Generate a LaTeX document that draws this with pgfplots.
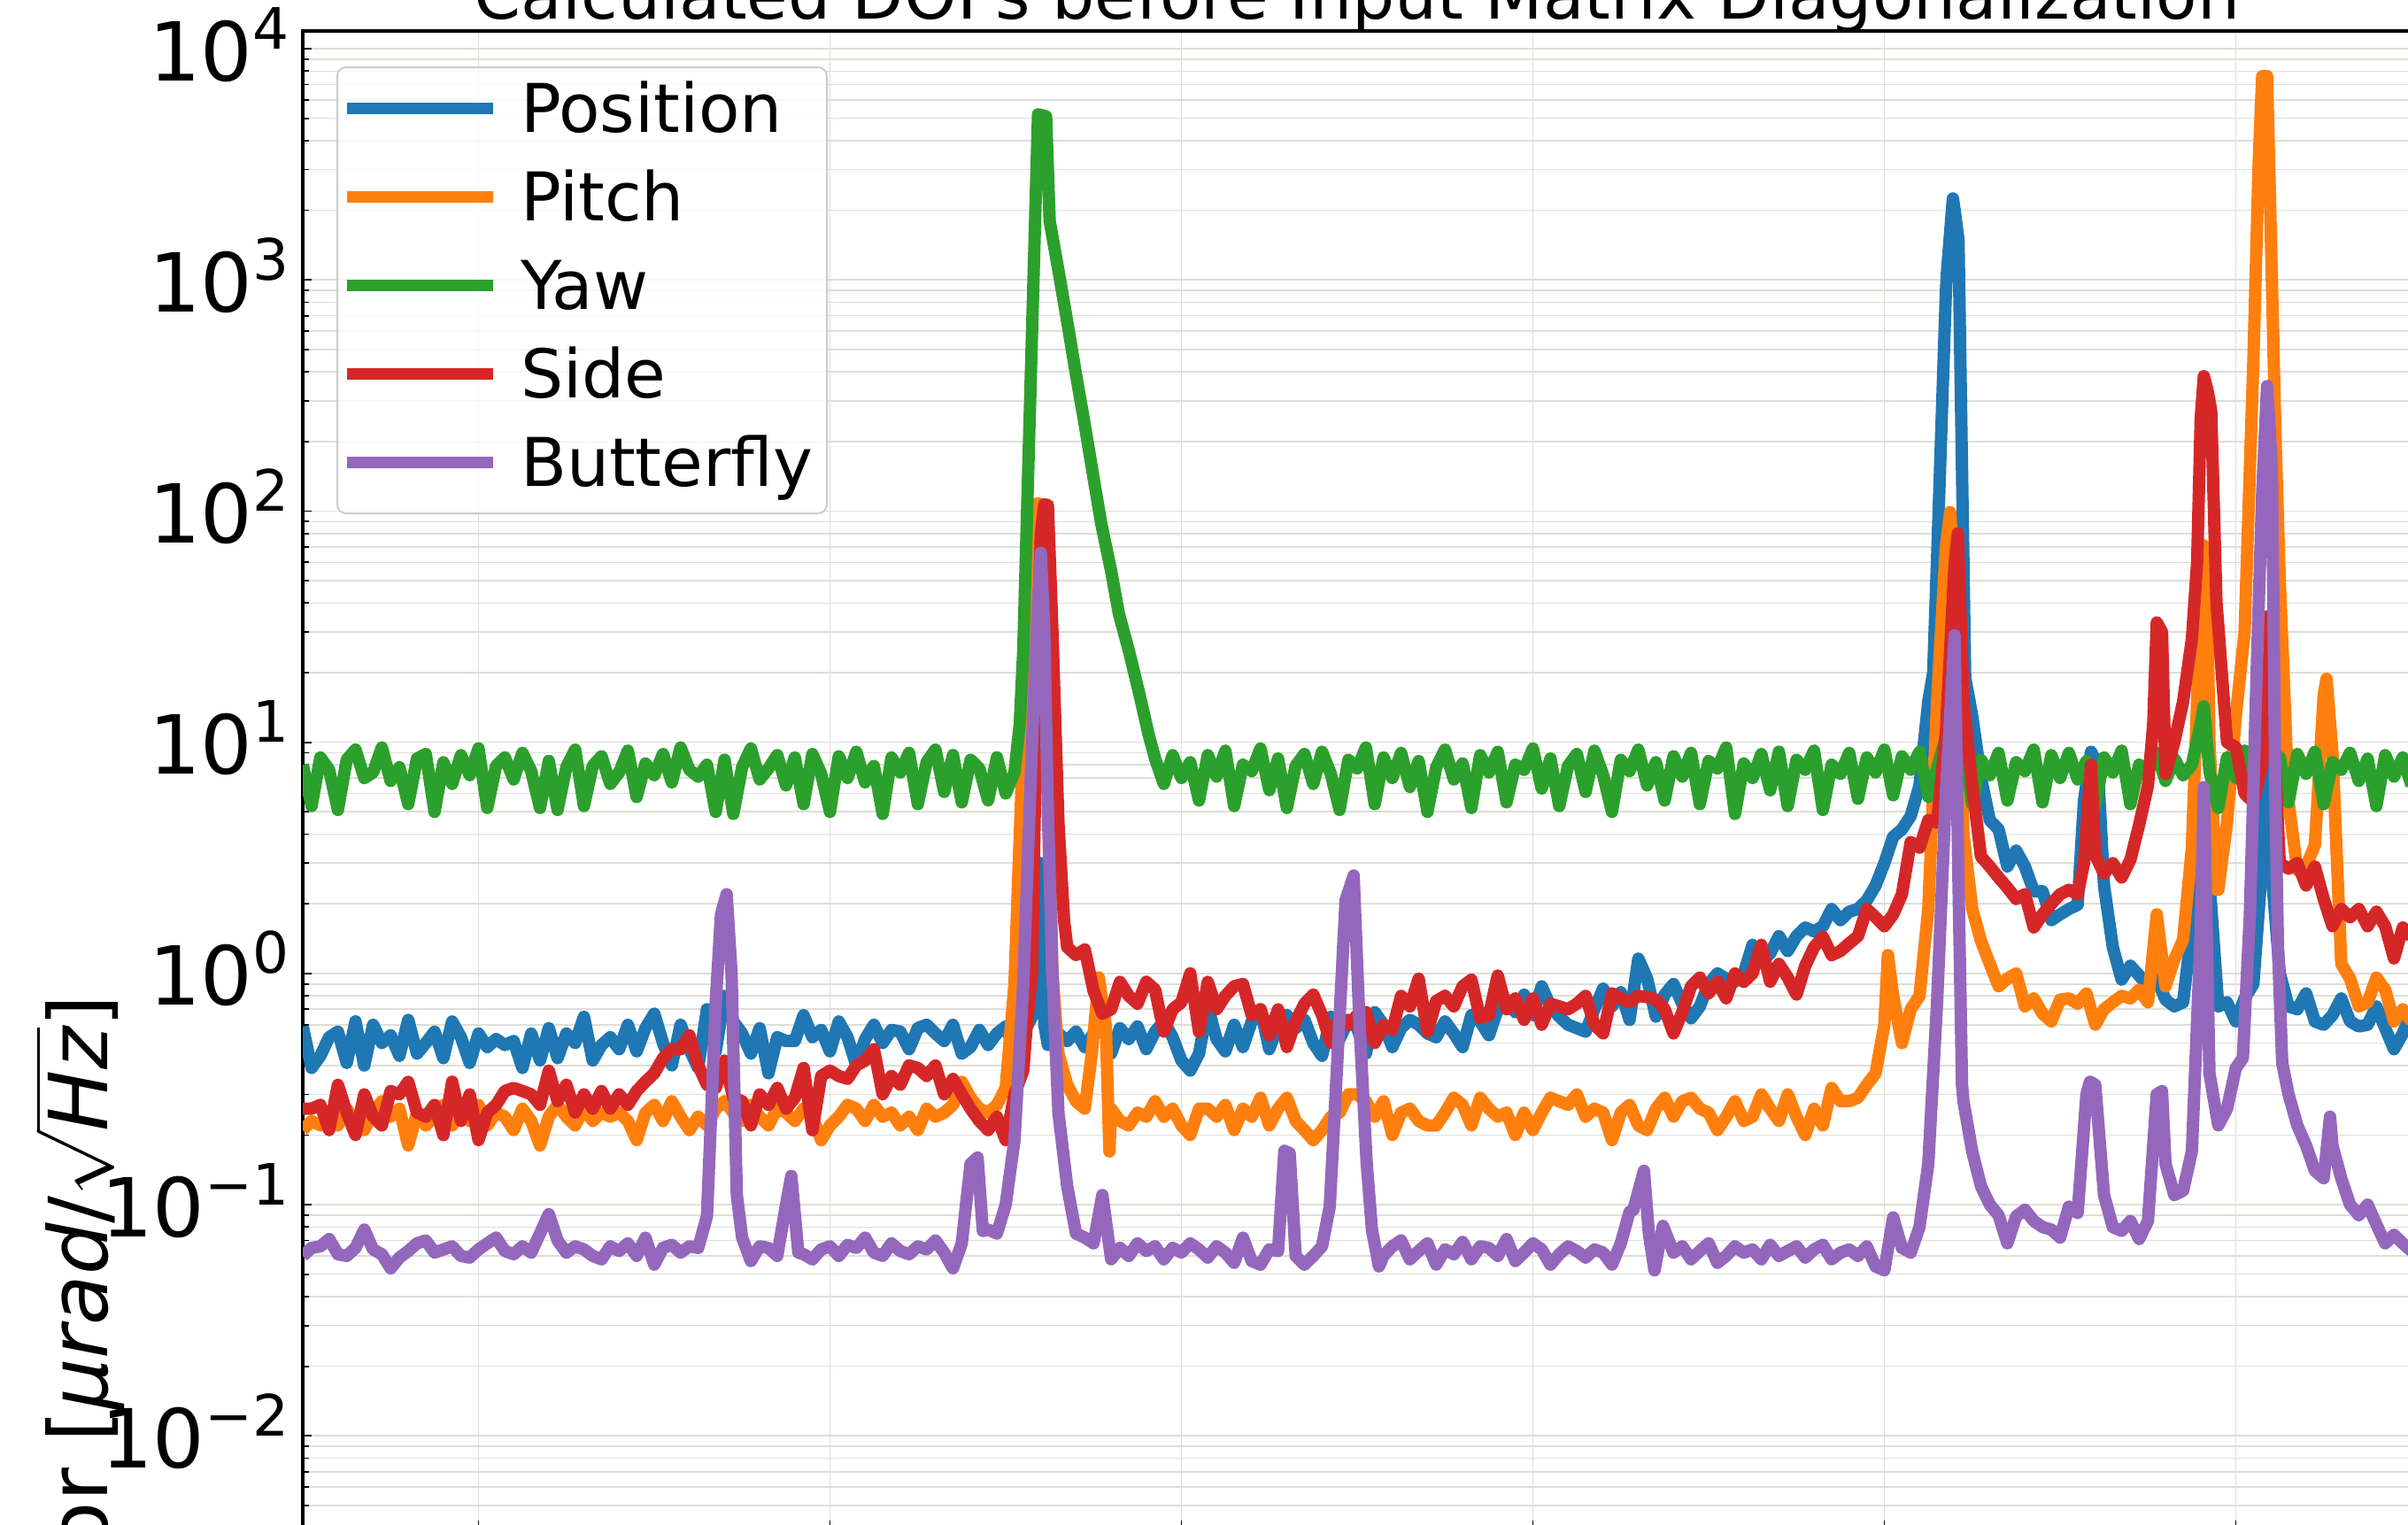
\documentclass[border=0pt]{standalone}
\usepackage{fontspec}
\setmainfont{DejaVu Sans}
\usepackage{graphicx}
\usepackage{pgfplots}
\usepackage{pgfplotstable}
\pgfplotsset{compat=1.18}

\definecolor{tabblue}{HTML}{1F77B4}
\definecolor{taborange}{HTML}{FF7F0E}
\definecolor{tabgreen}{HTML}{2CA02C}
\definecolor{tabred}{HTML}{D62728}
\definecolor{tabpurple}{HTML}{9467BD}
\definecolor{gridc}{RGB}{222,222,216}
\definecolor{legedge}{RGB}{204,204,204}

\newcommand\tickfont{\fontsize{26.2pt}{31pt}\selectfont}
\newcommand\legfont{\fontsize{21.6pt}{26pt}\selectfont}
\newcommand\tp[1]{10\raisebox{0.39em}{\scalebox{0.7}{#1}}}

\pgfplotstableread{
x pos pitch yaw side bfly
5.00 0.59 0.21 8.0 0.26 0.060
5.25 0.39 0.23 5.3 0.26 0.065
5.50 0.44 0.22 8.6 0.27 0.066
5.75 0.53 0.24 7.6 0.21 0.071
6.00 0.56 0.22 5.1 0.33 0.061
6.25 0.41 0.26 8.4 0.25 0.060
6.50 0.62 0.23 9.3 0.20 0.065
6.75 0.40 0.21 7.0 0.30 0.078
7.00 0.60 0.25 7.4 0.24 0.064
7.25 0.50 0.28 9.5 0.22 0.061
7.50 0.54 0.24 6.8 0.31 0.053
7.75 0.44 0.26 7.8 0.30 0.059
8.00 0.63 0.18 5.4 0.34 0.063
8.25 0.45 0.25 8.5 0.25 0.068
8.50 0.50 0.22 8.9 0.24 0.070
8.75 0.56 0.24 5.0 0.27 0.062
9.00 0.43 0.27 8.2 0.20 0.064
9.25 0.62 0.22 6.6 0.34 0.066
9.50 0.53 0.25 8.8 0.23 0.060
9.75 0.41 0.23 7.2 0.30 0.059
10.00 0.55 0.27 9.4 0.19 0.064
10.25 0.48 0.22 5.2 0.25 0.068
10.50 0.52 0.25 7.9 0.27 0.072
10.75 0.49 0.24 8.6 0.31 0.063
11.00 0.51 0.21 6.9 0.32 0.061
11.25 0.39 0.26 9.0 0.31 0.066
11.50 0.55 0.23 7.5 0.30 0.062
11.75 0.42 0.18 5.2 0.27 0.075
12.00 0.58 0.24 8.3 0.38 0.091
12.25 0.43 0.27 5.1 0.28 0.070
12.50 0.55 0.24 7.8 0.33 0.062
12.75 0.50 0.22 9.3 0.25 0.066
13.00 0.65 0.26 5.3 0.30 0.064
13.25 0.42 0.23 7.9 0.26 0.060
13.50 0.49 0.25 8.7 0.31 0.058
13.75 0.53 0.24 6.6 0.26 0.066
14.00 0.47 0.25 7.4 0.30 0.063
14.25 0.60 0.23 9.2 0.27 0.068
14.50 0.46 0.19 5.8 0.31 0.060
14.75 0.58 0.25 8.1 0.34 0.072
15.00 0.67 0.27 7.2 0.37 0.055
15.25 0.50 0.23 8.9 0.43 0.065
15.50 0.40 0.28 6.7 0.47 0.067
15.75 0.60 0.24 9.5 0.47 0.062
16.00 0.47 0.21 7.6 0.54 0.066
16.25 0.39 0.24 7.1 0.40 0.065
16.50 0.70 0.22 8.0 0.33 0.089
16.75 0.46 0.26 5.0 0.32 0.75
16.90 nan nan nan nan 1.8
17.00 0.80 0.28 8.4 0.42 nan
17.06 nan nan nan nan 2.2
17.20 nan nan nan nan 1.0
17.25 0.62 0.25 4.9 0.29 nan
17.35 nan nan nan nan 0.11
17.50 0.55 0.23 7.8 0.28 0.072
17.75 0.45 0.27 9.4 0.22 0.057
18.00 0.58 0.24 6.9 0.30 0.066
18.25 0.37 0.22 7.7 0.27 0.065
18.50 0.53 0.26 8.8 0.32 0.060
18.75 0.51 0.25 6.5 0.26 0.100
18.90 nan nan nan nan 0.133
19.00 0.51 0.23 8.6 0.29 nan
19.10 nan nan nan nan 0.062
19.25 0.66 0.26 5.4 0.39 0.061
19.50 0.53 0.24 8.9 0.21 0.058
19.75 0.57 0.19 7.3 0.36 0.064
20.00 0.46 0.22 5.0 0.38 0.066
20.25 0.62 0.24 8.7 0.36 0.060
20.50 0.53 0.27 7.0 0.35 0.067
20.75 0.40 0.26 9.1 0.40 0.065
21.00 0.52 0.23 6.7 0.42 0.072
21.25 0.60 0.27 7.9 0.47 0.062
21.50 0.50 0.24 4.9 0.30 0.060
21.75 0.57 0.25 8.6 0.36 0.068
22.00 0.56 0.22 7.4 0.33 0.063
22.25 0.47 0.24 9.0 0.40 0.061
22.50 0.58 0.21 5.4 0.39 0.066
22.75 0.60 0.26 8.2 0.36 0.064
23.00 0.55 0.24 9.3 0.40 0.070
23.25 0.51 0.25 6.1 0.30 0.062
23.50 0.60 0.27 8.8 0.35 0.053
23.75 0.45 0.34 5.5 0.30 0.068
24.00 0.48 0.29 8.4 0.26 0.15
24.20 nan nan nan nan 0.16
24.25 0.57 0.26 7.7 0.23 nan
24.35 nan nan nan nan 0.077
24.50 0.49 0.25 5.6 0.21 0.078
24.75 0.55 0.27 8.6 0.24 0.075
25.00 0.59 0.32 6.0 0.19 0.10
25.25 0.47 0.9 7.4 0.30 0.19
25.40 nan 4 12 nan nan
25.50 0.55 10 25 0.38 0.9
25.60 nan 30 nan 0.6 nan
25.75 0.65 70 600 1.0 10
25.85 nan 107 nan 8 nan
25.92 1.0 108 5200 30 40
26.00 3.0 106 nan 80 66
26.10 0.6 60 nan 107 30
26.15 nan nan 5100 nan nan
26.20 0.49 8 nan 106 5
26.25 0.50 nan 1800 nan nan
26.33 nan 1.0 nan 30 1.0
26.50 0.55 0.45 1100 4.5 0.25
26.66 nan nan nan 1.7 nan
26.75 0.51 0.33 660 1.3 0.12
27.00 0.56 0.28 390 1.2 0.075
27.25 0.48 0.26 236 1.27 0.072
27.45 nan 0.45 nan nan nan
27.50 0.55 nan 139 0.84 0.068
27.65 nan 0.96 nan nan nan
27.72 nan nan 88 nan nan
27.75 0.60 nan nan 0.67 0.11
27.85 nan 0.59 nan nan nan
27.95 nan 0.17 nan nan nan
28.00 0.45 0.26 55 0.70 0.058
28.22 nan nan 36 nan nan
28.25 0.58 0.23 nan 0.92 0.065
28.50 0.52 0.22 25 0.80 0.060
28.56 nan nan 23 nan nan
28.75 0.59 0.25 nan 0.74 0.068
28.81 nan nan 16 nan nan
29.00 0.47 0.24 nan 0.92 0.063
29.06 nan nan 10.9 nan nan
29.25 0.56 0.28 8.5 0.85 0.066
29.50 0.62 0.24 6.6 0.56 0.058
29.75 0.53 0.26 8.8 0.70 0.065
30.00 0.42 0.22 7.0 0.75 0.062
30.25 0.38 0.20 8.2 1.0 0.068
30.50 0.45 0.26 5.6 0.56 0.064
30.75 0.72 0.26 8.8 0.92 0.059
31.00 0.52 0.24 7.1 0.70 0.066
31.25 0.46 0.27 9.2 0.80 0.062
31.50 0.60 0.21 5.3 0.88 0.056
31.75 0.48 0.26 8.0 0.90 0.072
32.00 0.62 0.24 7.5 0.66 0.057
32.25 0.70 0.29 9.4 0.70 0.055
32.50 0.47 0.22 6.2 0.54 0.064
32.75 0.60 0.26 8.5 0.70 0.063
32.93 nan nan nan nan 0.171
33.00 0.66 0.29 5.2 0.48 nan
33.08 nan nan nan nan 0.167
33.25 0.58 0.23 7.9 0.62 0.060
33.50 0.63 0.21 8.9 0.74 0.055
33.75 0.50 0.19 6.6 0.81 0.060
34.00 0.44 0.21 9.1 0.66 0.066
34.22 nan nan nan nan 0.098
34.25 0.65 0.24 7.3 0.50 nan
34.42 nan nan nan nan 0.375
34.50 0.52 0.25 5.1 0.65 nan
34.67 nan nan nan nan 2.07
34.75 0.63 0.30 8.4 0.60 nan
34.90 nan nan nan nan 2.65
35.00 0.58 0.30 7.7 0.66 nan
35.07 nan nan nan nan 0.59
35.25 0.45 0.28 9.5 0.68 nan
35.27 nan nan nan nan 0.152
35.42 nan nan nan nan 0.078
35.50 0.68 0.24 5.4 0.50 nan
35.62 nan nan nan nan 0.054
35.75 0.60 0.28 8.6 0.60 0.060
36.00 0.48 0.20 7.0 0.57 0.066
36.25 0.58 0.25 9.0 0.80 0.070
36.50 0.63 0.26 6.4 0.72 0.058
36.75 0.60 0.23 8.3 0.95 0.063
37.00 0.55 0.22 5.0 0.56 0.068
37.25 0.53 0.22 7.8 0.76 0.055
37.50 0.62 0.25 9.3 0.80 0.064
37.75 0.55 0.29 6.9 0.72 0.061
38.00 0.48 0.27 8.1 0.88 0.069
38.25 0.66 0.22 5.2 0.94 0.058
38.50 0.62 0.29 8.8 0.64 0.066
38.75 0.54 0.26 7.4 0.66 0.065
39.00 0.70 0.24 9.1 0.98 0.060
39.25 0.77 0.25 5.5 0.70 0.071
39.50 0.68 0.20 8.0 0.78 0.057
39.75 0.81 0.25 7.6 0.63 0.062
40.00 0.66 0.21 9.4 0.78 0.068
40.25 0.88 0.25 6.3 0.60 0.064
40.50 0.72 0.29 8.5 0.74 0.055
40.75 0.65 0.28 5.3 0.72 0.061
41.00 0.60 0.27 7.9 0.70 0.066
41.25 0.58 0.30 8.9 0.74 0.063
41.50 0.56 0.24 6.1 0.80 0.059
41.75 0.70 0.26 9.2 0.60 0.064
42.00 0.86 0.25 7.2 0.55 0.062
42.25 0.72 0.19 5.0 0.82 0.055
42.50 0.83 0.25 8.4 0.78 0.068
42.75 0.63 0.27 7.5 0.75 0.093
42.86 nan nan nan nan 0.095
43.00 1.16 0.22 9.3 0.80 nan
43.16 nan nan nan nan 0.14
43.25 0.95 0.21 6.5 0.79 nan
43.30 nan nan nan nan 0.075
43.46 nan nan nan nan 0.052
43.50 0.65 0.26 8.2 0.77 nan
43.70 nan nan nan nan 0.081
43.75 0.81 0.29 5.6 0.70 nan
44.00 0.90 0.24 8.7 0.55 0.062
44.25 0.74 0.28 7.1 0.68 0.066
44.50 0.64 0.29 9.0 0.88 0.058
44.75 0.72 0.26 5.4 0.96 0.063
45.00 0.90 0.25 8.3 0.82 0.068
45.25 1.0 0.21 7.7 0.92 0.056
45.50 0.95 0.24 9.5 0.78 0.060
45.75 0.92 0.28 4.9 1.0 0.066
46.00 1.0 0.23 8.1 0.92 0.062
46.25 1.33 0.24 7.0 1.0 0.064
46.50 1.12 0.30 8.9 1.33 0.058
46.75 1.22 0.26 6.2 0.92 0.067
47.00 1.45 0.23 9.1 1.1 0.060
47.25 1.25 0.30 5.3 0.96 0.063
47.50 1.45 0.24 8.4 0.81 0.066
47.75 1.58 0.20 7.6 1.08 0.059
48.00 1.52 0.26 9.2 1.3 0.064
48.25 1.6 0.22 5.1 1.44 0.067
48.50 1.9 0.32 8.0 1.2 0.058
48.75 1.7 0.28 7.3 1.25 0.062
49.00 1.85 0.28 9.0 1.35 0.064
49.25 1.9 0.29 5.7 1.45 0.060
49.50 2.07 0.33 8.6 1.9 0.066
49.75 2.4 0.37 7.4 1.75 0.054
50.00 3.0 0.6 9.3 1.6 0.052
50.10 nan 1.2 nan nan nan
50.25 3.9 0.8 5.9 1.8 0.088
50.50 4.2 0.5 8.7 2.2 0.065
50.75 4.8 0.7 7.6 3.7 0.062
51.00 6.5 0.8 9.1 3.5 0.080
51.25 15 1.9 5.8 4.6 0.15
51.39 20 nan nan nan nan
51.50 62 15 7.7 4.5 0.75
51.75 880 70 10.5 11 6
51.78 1070 nan nan nan nan
51.87 nan 99 nan nan nan
51.95 2250 nan nan nan nan
52.00 2000 50 12 60 29
52.09 nan nan nan 80 nan
52.10 nan nan nan nan 3
52.11 1480 nan nan nan nan
52.21 nan nan nan nan 0.33
52.25 60 4 9.8 15 0.28
52.30 19 nan nan nan nan
52.50 13 1.9 5.4 6.5 0.17
52.75 7 1.38 8.4 3.2 0.12
53.00 4.6 1.1 7.2 2.9 0.10
53.25 4.2 0.88 9.0 2.6 0.09
53.50 2.9 0.95 5.6 2.35 0.068
53.75 3.4 1.0 8.2 2.1 0.089
54.00 2.9 0.72 7.5 2.2 0.095
54.25 2.27 0.78 9.3 1.58 0.085
54.50 2.27 0.67 5.5 1.8 0.080
54.75 1.7 0.62 8.8 2.0 0.078
55.00 1.8 0.77 7.0 2.2 0.072
55.25 1.9 0.78 9.0 2.3 0.098
55.50 1.98 0.74 6.9 2.2 0.092
55.68 5.6 nan nan 3.0 nan
55.75 nan 0.82 8.3 nan 0.30
55.85 nan nan nan nan 0.34
55.88 9.1 nan nan 8.0 nan
56.00 nan 0.6 5.3 3.25 0.33
56.07 8.0 nan nan nan nan
56.25 2.4 0.70 8.6 2.7 0.11
56.50 1.3 0.75 7.4 3.0 0.08
56.75 0.94 0.80 9.2 2.6 0.077
57.00 1.08 0.78 5.4 3.1 0.085
57.25 0.98 0.85 8.0 4.4 0.071
57.50 0.88 0.75 7.6 6.5 0.085
57.65 nan nan nan 12 nan
57.75 0.95 1.8 9.0 33 0.30
57.90 nan nan nan 30 0.31
58.00 0.77 0.88 6.8 7.3 0.15
58.25 0.72 1.15 8.5 10 0.11
58.50 0.75 1.4 7.2 15 0.115
58.75 1.6 3.5 8.0 28 0.17
58.90 nan nan nan 60 nan
59.00 3.5 40 12 250 1.5
59.09 4 71 14.3 383 6.4
59.20 nan 30 nan 330 nan
59.25 2.5 10 7.5 300 0.37
59.30 nan nan nan 270 nan
59.45 nan 2.3 nan 40 nan
59.50 0.72 2.3 5.2 32 0.22
59.60 nan nan nan 20 nan
59.75 0.75 4.5 8.6 10 0.26
60.00 0.62 13 7.0 9.5 0.39
60.20 nan nan nan nan 0.43
60.25 0.78 30 9.2 6 nan
60.40 nan nan nan nan 1.8
60.50 0.9 450 6.0 5.5 nan
60.60 nan nan nan nan 22
60.65 nan 3200 nan nan nan
60.75 3 7600 8.4 8 120
60.89 30 7600 12 35 347
61.00 3 1480 9.0 20 180
61.03 nan nan nan nan 140
61.13 nan 205 nan nan 5
61.20 nan nan nan nan 1.3
61.25 1.0 50 8.6 3.0 nan
61.32 nan nan nan nan 0.41
61.37 nan 18 nan nan nan
61.50 0.72 5.5 5.5 2.84 0.30
61.75 0.70 2.8 8.9 3.0 0.22
62.00 0.82 2.9 7.3 2.4 0.18
62.25 0.62 3.6 9.1 2.9 0.14
62.50 0.60 16 5.4 2.1 0.13
62.58 nan 18.8 nan nan nan
62.68 nan nan nan nan 0.24
62.75 0.66 9 8.2 1.6 0.18
63.00 0.78 1.1 7.6 1.9 0.13
63.25 0.62 0.95 9.0 1.75 0.10
63.50 0.59 0.72 6.8 1.9 0.09
63.75 0.60 0.75 8.5 1.6 0.10
64.00 0.72 0.96 5.3 1.85 0.082
64.25 0.58 0.85 8.8 1.6 0.068
64.50 0.47 0.62 7.1 1.16 0.074
64.75 0.55 0.7 8.6 1.58 0.068
65.00 0.68 0.62 6.5 1.44 0.063
}\data

\begin{document}
\begin{tikzpicture}
\path[use as bounding box] (0,0) rectangle (27.2cm,17.22cm);
\clip (0,0) rectangle (27.2cm,17.22cm);
\begin{axis}[
  at={(3.42cm,-0.06cm)}, anchor=south west,
  scale only axis, width=23.82cm, height=16.93cm,
  xmin=5, xmax=65,
  ymode=log, ymin=0.003936, ymax=11928,
  xtick={10,20,30,40,50,60}, xticklabels={},
  ytick={0.01,0.1,1,10,100,1000,10000},
  yticklabels={\tp{−2},\tp{−1},\tp{0},\tp{1},\tp{2},\tp{3},\tp{4}},
  minor ytick={0.004,0.005,0.006,0.007,0.008,0.009,
    0.02,0.03,0.04,0.05,0.06,0.07,0.08,0.09,
    0.2,0.3,0.4,0.5,0.6,0.7,0.8,0.9,
    2,3,4,5,6,7,8,9,20,30,40,50,60,70,80,90,
    200,300,400,500,600,700,800,900,
    2000,3000,4000,5000,6000,7000,8000,9000},
  tick pos=left,
  tick align=inside,
  major tick length=0.1cm, minor tick length=0.065cm,
  tick style={black, line width=0.018cm},
  axis line style={black, line width=0.033cm},
  grid=both,
  major grid style={draw=gridc, line width=0.016cm},
  minor grid style={draw=gridc, line width=0.016cm},
  yticklabel style={font=\tickfont, anchor=base east, inner sep=0pt, xshift=-0.15cm, yshift=-0.36cm},
  title={Calculated DOFs before Input Matrix Diagonalization},
  every axis title/.style={at={(0.5,1)}, anchor=base, yshift=0.133cm, inner sep=0pt, font=\legfont},
  ylabel={Error [\textit{μrad}/$\sqrt{\mbox{\itshape Hz}}$]},
  every axis y label/.style={at={(axis description cs:-0.0924,0.3568)}, rotate=90, anchor=base east, inner sep=0pt, font=\tickfont},
  legend style={at={(axis description cs:0,1)}, anchor=north west,
    xshift=0.38cm, yshift=-0.40cm,
    draw=legedge, line width=0.02cm, rounded corners=0.1cm,
    fill=white, fill opacity=0.8, draw opacity=1, text opacity=1,
    font=\legfont, inner xsep=0.04cm, inner ysep=0.125cm,
    row sep=0.21cm, column sep=0.25cm, cells={anchor=west},
    nodes={inner sep=0pt, text height=0.61cm, text depth=0.18cm, text width=3.42cm, align=left}},
  legend image code/.code={\draw[#1, line width=0.13cm, rounded corners=0pt] (0cm,0.06cm) -- (1.65cm,0.06cm);},
]
\addplot[tabblue, line width=0.14cm, line join=round] table[x=x, y=pos] {\data};
\addlegendentry{Position}
\addplot[taborange, line width=0.14cm, line join=round] table[x=x, y=pitch] {\data};
\addlegendentry{Pitch}
\addplot[tabgreen, line width=0.14cm, line join=round] table[x=x, y=yaw] {\data};
\addlegendentry{Yaw}
\addplot[tabred, line width=0.14cm, line join=round] table[x=x, y=side] {\data};
\addlegendentry{Side}
\addplot[tabpurple, line width=0.14cm, line join=round] table[x=x, y=bfly] {\data};
\addlegendentry{Butterfly}
\end{axis}
\end{tikzpicture}
\end{document}
